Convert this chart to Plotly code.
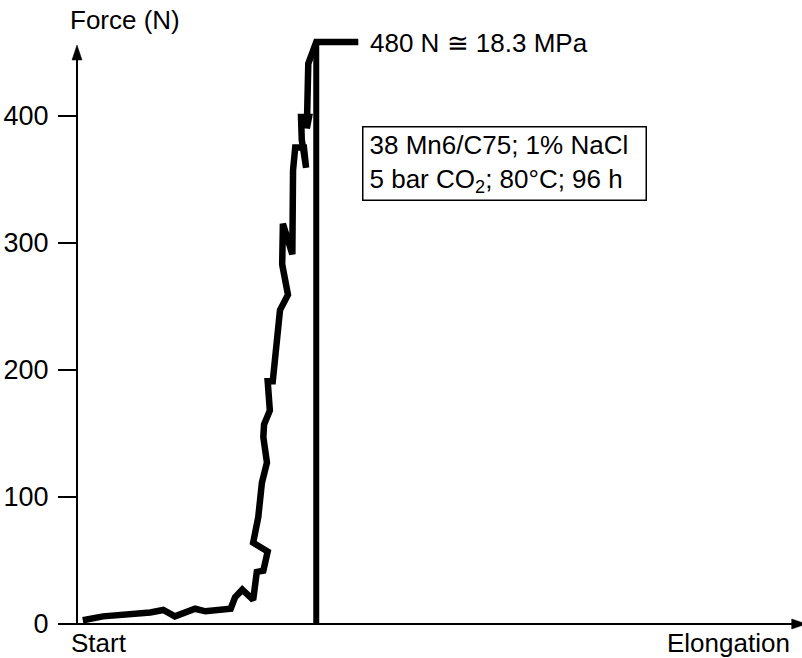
import plotly.graph_objects as go

# Load-elongation record of the specimen (elongation in arbitrary units, force in N)
elongation = [0.8, 3.6, 10.1, 11.9, 13.5, 16.3, 17.7, 21.2, 21.8, 22.8, 24.3, 24.8,
              25.7, 26.3, 24.3, 25.0, 25.5, 26.2, 25.7, 25.8, 26.6, 26.3, 27.0, 28.0,
              29.1, 28.3, 28.4, 29.7, 29.8, 30.1, 31.3, 31.6, 31.0, 30.9, 32.0, 31.7,
              31.9, 33.0, 38.8]
force = [3, 6, 9, 11, 6, 12, 10, 12, 21, 27, 19, 41,
         42, 57, 64, 84, 111, 127, 147, 157, 168, 191, 191, 247,
         259, 283, 315, 291, 357, 375, 375, 359, 381, 399, 399, 390,
         441, 458, 458]

# Fracture: force drops to zero at constant elongation
fracture_elong = [33.0, 33.0]
fracture_force = [458, 0]

y_ticks = [0, 100, 200, 300, 400]

FONT = "Liberation Sans, Arial, Helvetica, sans-serif"
BLACK = "#000000"

fig = go.Figure()

# Measured curve
fig.add_trace(go.Scatter(x=elongation, y=force, mode="lines",
                         line=dict(color=BLACK, width=6.5), hoverinfo="skip"))
fig.add_trace(go.Scatter(x=fracture_elong, y=fracture_force, mode="lines",
                         line=dict(color=BLACK, width=6), hoverinfo="skip"))

# Axis lines with arrowheads
fig.add_trace(go.Scatter(x=[0, 0], y=[0, 445], mode="lines",
                         line=dict(color=BLACK, width=2), hoverinfo="skip"))
fig.add_trace(go.Scatter(x=[-0.69, 0.69, 0, -0.69], y=[443.8, 443.8, 455.6, 443.8],
                         mode="lines", fill="toself", fillcolor=BLACK,
                         line=dict(color=BLACK, width=0.5), hoverinfo="skip"))
fig.add_trace(go.Scatter(x=[0, 98.7], y=[0, 0], mode="lines",
                         line=dict(color=BLACK, width=2), hoverinfo="skip"))
fig.add_trace(go.Scatter(x=[98.58, 98.58, 100.6, 98.58], y=[-3.93, 3.93, 0, -3.93],
                         mode="lines", fill="toself", fillcolor=BLACK,
                         line=dict(color=BLACK, width=0.5), hoverinfo="skip"))

fig.update_layout(
    width=802, height=658,
    margin=dict(l=60, r=0, t=14, b=28),
    paper_bgcolor="white", plot_bgcolor="white",
    showlegend=False,
    font=dict(family=FONT, size=26, color=BLACK),
    xaxis=dict(range=[-2.345, 100], visible=False, fixedrange=True),
    yaxis=dict(range=[-4.72, 480], anchor="free", position=17 / 742,
               showline=False, showgrid=False, zeroline=False,
               tickmode="array", tickvals=y_ticks,
               ticktext=[str(v) for v in y_ticks],
               ticks="outside", ticklen=19, tickwidth=2, tickcolor=BLACK,
               ticklabelstandoff=4,
               tickfont=dict(family=FONT, size=27, color=BLACK),
               fixedrange=True),
)

annotations = [
    dict(x=-1.24, y=475.3, xref="x", yref="y", text="Force (N)",
         xanchor="left", yanchor="middle"),
    dict(x=40.2, y=457.5, xref="x", yref="y", text="480 N \u2245 18.3 MPa",
         xanchor="left", yanchor="middle"),
    dict(x=59.0, y=362, xref="x", yref="y",
         text="38 Mn6/C75; 1% NaCl<br>5 bar CO<sub>2</sub>; 80°C; 96 h",
         xanchor="center", yanchor="middle", align="left",
         bordercolor=BLACK, borderwidth=1.5, borderpad=6, width=270, height=60),
    dict(x=3.03, y=-0.021, xref="x", yref="paper", text="Start",
         xanchor="center", yanchor="middle"),
    dict(x=89.84, y=-0.021, xref="x", yref="paper", text="Elongation",
         xanchor="center", yanchor="middle"),
]
for a in annotations:
    a.update(showarrow=False, font=dict(family=FONT, size=26, color=BLACK))
    fig.add_annotation(**a)

fig.write_html("out.html")
